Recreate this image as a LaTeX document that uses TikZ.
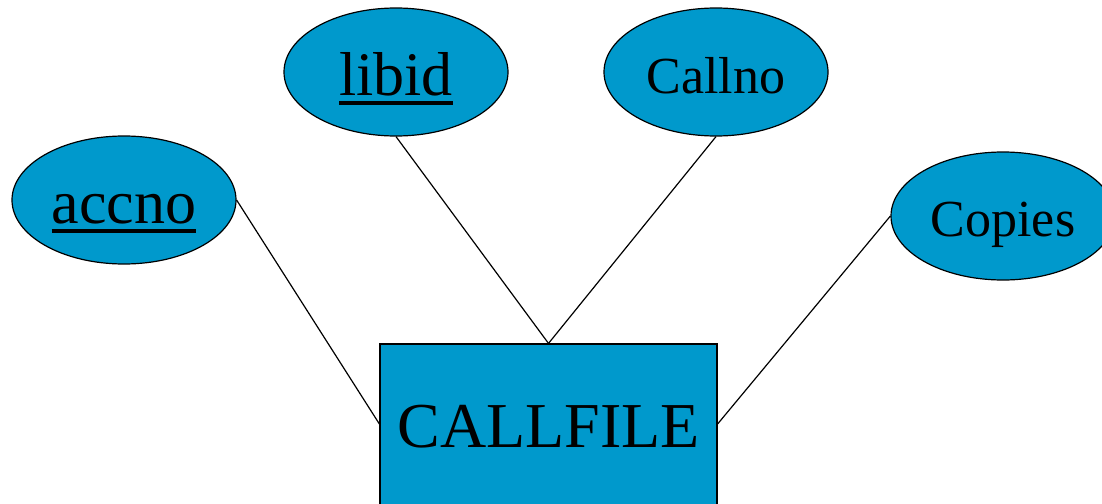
\documentclass[tikz,border=0pt]{standalone}
\usepackage{fontspec}
\setmainfont{Liberation Serif}
\usetikzlibrary{shapes.geometric}
\definecolor{erblue}{HTML}{0099CC}
\newcommand\myul[1]{\setbox0\hbox{#1}\rlap{\smash{\rule[-10pt]{\wd0}{4.5pt}}}\box0}
\begin{document}
\begin{tikzpicture}[x=1pt,y=-1pt,
  attr/.style={ellipse,draw=black,fill=erblue,line width=1.2pt,inner sep=0pt,
    minimum width=224pt,minimum height=128pt,text depth=0pt},
  big/.style={font=\fontsize{62}{62}\selectfont,text height=46pt},
  small/.style={font=\fontsize{52}{52}\selectfont},
  entity/.style={rectangle,draw=black,fill=erblue,line width=1.2pt,inner sep=0pt,
    minimum width=337pt,minimum height=180pt,text height=26pt,text depth=0pt,
    font=\fontsize{64}{64}\selectfont},
  conn/.style={line width=1.2pt}]
\useasboundingbox (0,0) rectangle (1102,503);
\node[attr,big] (accno) at (124,200) {\myul{accno}};
\node[attr,big] (libid) at (396,72) {\myul{libid}};
\node[attr,small,text height=42pt] (callno) at (716,72) {Callno};
\node[attr,small,text height=40pt] (copies) at (1003,216) {Copies};
\node[entity] (cf) at (548.5,434) {CALLFILE};
\draw[conn] (accno.east) -- ([yshift=10pt]cf.west);
\draw[conn] (libid.south) -- (cf.north);
\draw[conn] (callno.south) -- (cf.north);
\draw[conn] (copies.west) -- ([yshift=10pt]cf.east);
\end{tikzpicture}
\end{document}
